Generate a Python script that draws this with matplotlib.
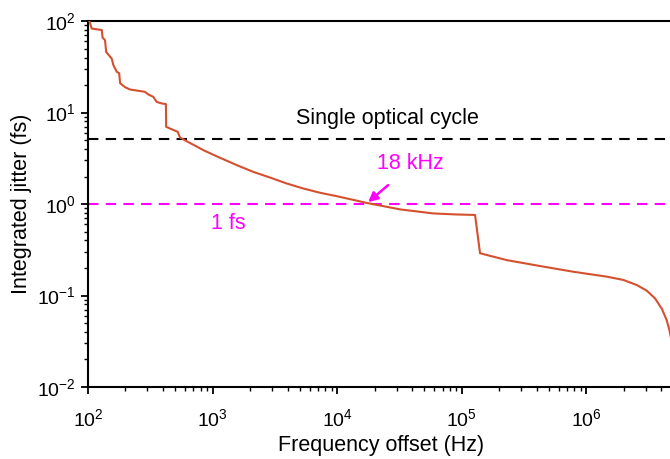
import matplotlib
matplotlib.use("Agg")
import matplotlib.pyplot as plt
from matplotlib.ticker import LogLocator, NullFormatter

plt.rcParams["font.family"] = ["Liberation Sans", "DejaVu Sans"]
plt.rcParams["mathtext.fontset"] = "custom"
plt.rcParams["mathtext.rm"] = "Liberation Sans"
plt.rcParams["mathtext.it"] = "Liberation Sans:italic"
plt.rcParams["mathtext.bf"] = "Liberation Sans:bold"
plt.rcParams["axes.unicode_minus"] = False

# integrated jitter curve
freq = [100, 104, 107, 129, 131, 137, 140, 155, 160, 170, 178, 181, 198, 217,
        286, 305, 334, 356, 390, 422, 424, 455, 525, 547, 582, 842, 1146,
        1560, 2120, 2890, 3930, 5340, 7280, 9900, 13500, 17200, 31900, 59000,
        90000, 127700, 140000, 229000, 425000, 785000, 1450000, 1980000,
        2540000, 3050000, 3550000, 4020000, 4400000, 4630000, 5000000]
jitter = [110, 95, 83, 80, 66, 62, 46, 39, 33, 28, 27, 21, 19, 17.9, 16.9,
          15.8, 14.9, 13.1, 12.6, 12.4, 7.0, 6.7, 6.17, 5.36, 5.1, 3.89, 3.21,
          2.67, 2.25, 1.95, 1.68, 1.48, 1.33, 1.22, 1.11, 1.03, 0.875, 0.79,
          0.77, 0.76, 0.29, 0.244, 0.21, 0.182, 0.161, 0.148, 0.130, 0.113,
          0.093, 0.072, 0.054, 0.042, 0.025]

optical_cycle = 5.2
one_fs = 1.0
crossing = (17700, 1.05)
crossing_label = "18 kHz"

fig = plt.figure(figsize=(6.70, 4.59), dpi=100)
ax = fig.add_axes([0.1313, 0.1569, 0.874, 0.797])

ax.plot(freq, jitter, color="#d4502f", lw=1.5, zorder=3)
ax.axhline(optical_cycle, color="black", ls=(0, (5, 3.5)), lw=1.5)
ax.axhline(one_fs, color="#ff00ff", ls=(0, (5, 3.5)), lw=1.5)

ax.set_xscale("log")
ax.set_yscale("log")
ax.set_xlim(1e2, 5e6)
ax.set_ylim(1e-2, 1e2)

ax.text(25500, 8.7, "Single optical cycle", fontsize=15.5, ha="center", va="center")
ax.text(39000, 2.75, crossing_label, fontsize=15.5, color="#ff00ff", ha="center", va="center")
ax.text(1330, 0.62, "1 fs", fontsize=15.5, color="#ff00ff", ha="center", va="center")
ax.annotate("", xy=crossing, xytext=(25600, 1.61),
            arrowprops=dict(arrowstyle="-|>", color="#ff00ff", lw=1.8,
                            mutation_scale=14, shrinkA=0, shrinkB=0))

ax.set_xlabel("Frequency offset (Hz)", fontsize=15.5, labelpad=4)
ax.set_ylabel("Integrated jitter (fs)", fontsize=15.5, labelpad=4)

for side in ["left", "bottom", "top"]:
    ax.spines[side].set_linewidth(1.5)
ax.spines["right"].set_visible(False)

ax.xaxis.set_minor_locator(LogLocator(base=10, subs=range(2, 10), numticks=20))
ax.yaxis.set_minor_locator(LogLocator(base=10, subs=range(2, 10), numticks=20))
ax.xaxis.set_minor_formatter(NullFormatter())
ax.yaxis.set_minor_formatter(NullFormatter())
ax.tick_params(which="major", direction="out", length=5, width=1.3, labelsize=14, top=False)
ax.tick_params(which="minor", direction="out", length=3, width=1.0, top=False)
ax.tick_params(axis="x", which="major", pad=10)

fig.savefig("out.png", dpi=100)
